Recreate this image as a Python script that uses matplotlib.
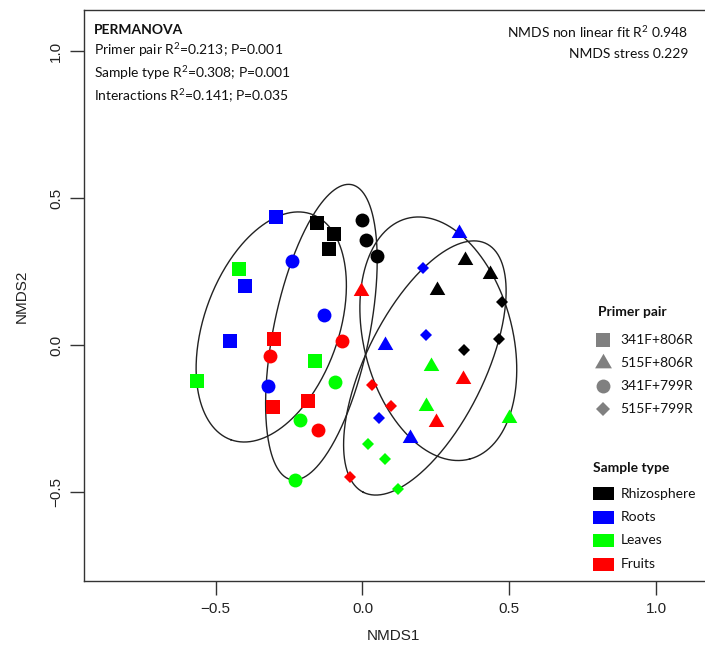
import numpy as np
import matplotlib
matplotlib.use("Agg")
import matplotlib.pyplot as plt
from matplotlib.lines import Line2D
from matplotlib.patches import Rectangle

plt.rcParams['mathtext.fontset'] = 'custom'
plt.rcParams['mathtext.rm'] = 'Lato'

# ---------------- data ----------------
primer_pairs = ["341F+806R", "515F+806R", "341F+799R", "515F+799R"]
sample_types = ["Rhizosphere", "Roots", "Leaves", "Fruits"]
type_colors = ["#000000", "#0000FF", "#00FF00", "#FF0000"]

# NMDS coordinates, per primer pair, per sample type (3 replicates each)
sq_x = {"Rhizosphere": [-0.154, -0.096, -0.115], "Roots": [-0.296, -0.399, -0.451],
        "Leaves": [-0.421, -0.162, -0.565], "Fruits": [-0.301, -0.306, -0.187]}
sq_y = {"Rhizosphere": [0.416, 0.378, 0.326], "Roots": [0.434, 0.201, 0.013],
        "Leaves": [0.260, -0.053, -0.123], "Fruits": [0.019, -0.212, -0.190]}

tr_x = {"Rhizosphere": [0.350, 0.434, 0.253], "Roots": [0.328, 0.077, 0.163],
        "Leaves": [0.234, 0.215, 0.499], "Fruits": [-0.006, 0.341, 0.249]}
tr_y = {"Rhizosphere": [0.288, 0.241, 0.186], "Roots": [0.381, -0.001, -0.316],
        "Leaves": [-0.071, -0.207, -0.247], "Fruits": [0.184, -0.117, -0.262]}

ci_x = {"Rhizosphere": [-0.002, 0.012, 0.050], "Roots": [-0.241, -0.132, -0.322],
        "Leaves": [-0.093, -0.214, -0.229], "Fruits": [-0.315, -0.070, -0.153]}
ci_y = {"Rhizosphere": [0.424, 0.357, 0.304], "Roots": [0.286, 0.103, -0.138],
        "Leaves": [-0.126, -0.255, -0.459], "Fruits": [-0.036, 0.012, -0.288]}

di_x = {"Rhizosphere": [0.474, 0.465, 0.346], "Roots": [0.207, 0.217, 0.057],
        "Leaves": [0.020, 0.078, 0.122], "Fruits": [0.032, 0.096, -0.044]}
di_y = {"Rhizosphere": [0.145, 0.019, -0.017], "Roots": [0.261, 0.034, -0.248],
        "Leaves": [-0.336, -0.387, -0.489], "Fruits": [-0.136, -0.207, -0.450]}

x_ticks = [-0.5, 0.0, 0.5, 1.0]
y_ticks = [-0.5, 0.0, 0.5, 1.0]

permanova_title = "PERMANOVA"
permanova_lines = [r"Primer pair R$^{2}$=0.213; P=0.001",
                   r"Sample type R$^{2}$=0.308; P=0.001",
                   r"Interactions R$^{2}$=0.141; P=0.035"]
fit_lines = [r"NMDS non linear fit R$^{2}$ 0.948", "NMDS stress 0.229"]

# ---------------- helpers ----------------
tri_verts = [(0, 1), (-0.8660254, -0.5), (0.8660254, -0.5), (0, 1)]
markers = {"341F+806R": ("s", 10), "515F+806R": (tri_verts, 13),
           "341F+799R": ("o", 10), "515F+799R": ("D", 6)}
xs = {"341F+806R": sq_x, "515F+806R": tr_x, "341F+799R": ci_x, "515F+799R": di_x}
ys = {"341F+806R": sq_y, "515F+806R": tr_y, "341F+799R": ci_y, "515F+799R": di_y}


def mvee(P, tol=1e-9):
    N, d = P.shape
    Q = np.vstack([P.T, np.ones(N)])
    u = np.ones(N) / N
    err = 1.0
    it = 0
    while err > tol and it < 100000:
        X = Q @ np.diag(u) @ Q.T
        M = np.einsum('ij,ji->i', Q.T @ np.linalg.inv(X), Q)
        j = np.argmax(M)
        step = (M[j] - d - 1.0) / ((d + 1.0) * (M[j] - 1.0))
        nu = (1 - step) * u
        nu[j] += step
        err = np.linalg.norm(nu - u)
        u = nu
        it += 1
    c = P.T @ u
    A = np.linalg.inv(P.T @ np.diag(u) @ P - np.outer(c, c)) / d
    return A, c


W, H = 705, 653
fig = plt.figure(figsize=(W / 100, H / 100), dpi=100)


def fx(px):
    return px / W


def fy(py):
    return 1 - py / H


ax_left, ax_right, ax_top, ax_bot = 84, 707, 10, 581
ax = fig.add_axes([fx(ax_left), fy(ax_bot), (ax_right - ax_left) / W, (ax_bot - ax_top) / H])
ax.set_xlim((ax_left - 362.5) / 293.5, (ax_right - 362.5) / 293.5)
ax.set_ylim((345 - ax_bot) / 294.0, (345 - ax_top) / 294.0)

# ellipses (enclosing hull per primer pair)
for pp in primer_pairs:
    px = np.concatenate([xs[pp][s] for s in sample_types])
    py = np.concatenate([ys[pp][s] for s in sample_types])
    A, c = mvee(np.column_stack([px, py]))
    w, V = np.linalg.eigh(A)
    t = np.linspace(0, 2 * np.pi, 400)
    circ = np.vstack([np.cos(t), np.sin(t)])
    pts = V @ np.diag(1 / np.sqrt(w)) @ circ + c[:, None]
    ax.plot(pts[0], pts[1], color="#222222", lw=1.0, zorder=1)

for pp in primer_pairs:
    m, ms = markers[pp]
    for st, col in zip(sample_types, type_colors):
        ax.plot(xs[pp][st], ys[pp][st], linestyle="none", marker=m, ms=ms,
                markerfacecolor=col, markeredgecolor=col, markeredgewidth=0, zorder=3)

for side in ["top", "bottom", "left", "right"]:
    ax.spines[side].set_linewidth(1.0)
    ax.spines[side].set_color("#333333")
ax.set_xticks(x_ticks)
ax.set_yticks(y_ticks)
ax.set_xticklabels([("\u22120.5" if v < 0 else f"{v:.1f}") for v in x_ticks])
ax.set_yticklabels([("\u22120.5" if v < 0 else f"{v:.1f}") for v in y_ticks])
ax.tick_params(axis="both", direction="out", length=10, width=1.0, color="#333333",
               labelsize=11, labelcolor="#222222")
ax.tick_params(axis="x", pad=5)
ax.tick_params(axis="y", pad=5)
for lab in ax.get_xticklabels() + ax.get_yticklabels():
    lab.set_family("Liberation Sans")
for lab in ax.get_yticklabels():
    lab.set_rotation(90)
    lab.set_va("center")
    lab.set_ha("right")

fig.text(fx(393), fy(636), "NMDS1", ha="center", va="center", fontsize=11,
         family="Liberation Sans", color="#222222")
fig.text(fx(22), fy(296), "NMDS2", ha="center", va="center", fontsize=11,
         family="Liberation Sans", color="#222222", rotation=90)

# annotations
tfont = dict(family="Lato", fontsize=10, color="#111111")
fig.text(fx(94), fy(30), permanova_title, ha="left", va="center", fontweight="bold", **tfont)
for i, s in enumerate(permanova_lines):
    fig.text(fx(94), fy(49.5 + i * 23), s, ha="left", va="center", **tfont)
for i, s in enumerate(fit_lines):
    fig.text(fx(688), fy(31.5 + i * 22), s, ha="right", va="center", **tfont)

# legend: primer pair
fig.text(fx(598), fy(311.5), "Primer pair", ha="left", va="center", fontweight="bold", **tfont)
leg_ms = {"341F+806R": 10, "515F+806R": 14, "341F+799R": 10, "515F+799R": 7}
for i, pp in enumerate(primer_pairs):
    yy = 340 + i * 23
    m, _ = markers[pp]
    fig.add_artist(Line2D([fx(602.5)], [fy(yy)], marker=m, ms=leg_ms[pp], linestyle="none",
                          markerfacecolor="#808080", markeredgecolor="#808080",
                          markeredgewidth=0, transform=fig.transFigure))
    fig.text(fx(620), fy(yy), pp, ha="left", va="center", **tfont)

# legend: sample type
fig.text(fx(593), fy(468), "Sample type", ha="left", va="center", fontweight="bold", **tfont)
for i, (st, col) in enumerate(zip(sample_types, type_colors)):
    yy = 493.5 + i * 23.5
    fig.add_artist(Rectangle((fx(593), fy(yy + 6.5)), 21 / W, 13 / H, facecolor=col,
                             edgecolor=col, lw=0, transform=fig.transFigure))
    fig.text(fx(621), fy(yy), st, ha="left", va="center", **tfont)

fig.savefig("out.png", dpi=100)
